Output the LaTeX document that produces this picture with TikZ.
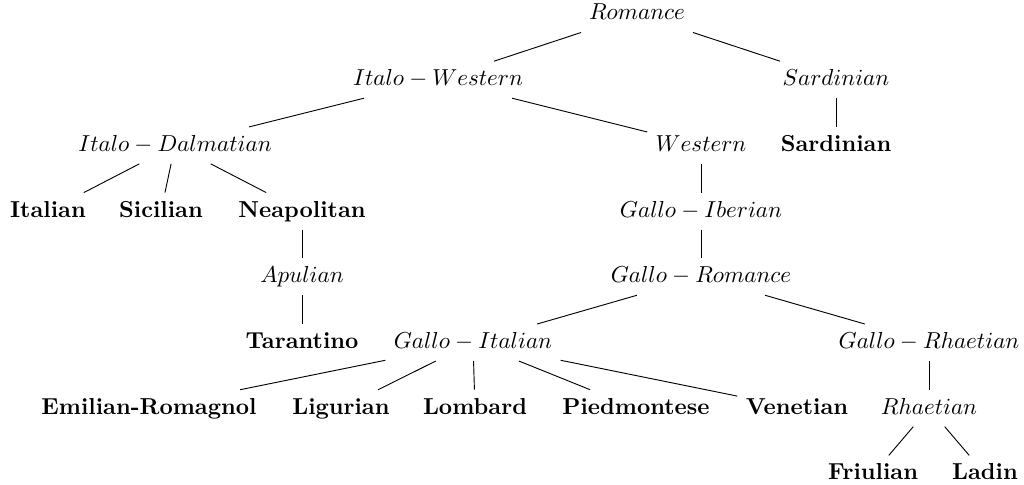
\documentclass[tikz,border=0pt]{standalone}
\usepackage{tikz}

\begin{document}
\begin{tikzpicture}[
        family/.style={
          inner sep=3.5pt,
          text height=1.6ex,
          text depth=0.4ex
        },
        lang/.style={
          family,
          font=\bfseries
        },
        branch/.style={draw=black}
      ]
        \useasboundingbox (0,0) rectangle (15.586,-7.367);

        % level 0 -- 2
        \node[family] (romance)      at (9.696,-0.213)  {$Romance$};
        \node[family] (italowestern) at (6.667,-1.213)  {$Italo-Western$};
        \node[family] (sardfam)      at (12.725,-1.213) {$Sardinian$};
        \node[family] (italodalm)    at (2.664,-2.213)  {$Italo-Dalmatian$};
        \node[family] (western)      at (10.670,-2.213) {$Western$};
        \node[lang]   (sardinian)    at (12.725,-2.213) {Sardinian};

        % level 3 -- 5
        \node[lang]   (italian)      at (0.731,-3.213)  {Italian};
        \node[lang]   (sicilian)     at (2.451,-3.213)  {Sicilian};
        \node[lang]   (neapolitan)   at (4.597,-3.213)  {Neapolitan};
        \node[family] (galloiberian) at (10.670,-3.213) {$Gallo-Iberian$};
        \node[family] (apulian)      at (4.597,-4.213)  {$Apulian$};
        \node[family] (galloromance) at (10.670,-4.213) {$Gallo-Romance$};
        \node[lang]   (tarantino)    at (4.597,-5.213)  {Tarantino};
        \node[family] (galloitalian) at (7.199,-5.213)  {$Gallo-Italian$};
        \node[family] (gallorhaet)   at (14.140,-5.213) {$Gallo-Rhaetian$};

        % level 6 -- 7
        \node[lang]   (emilian)      at (2.268,-6.213)  {Emilian-Romagnol};
        \node[lang]   (ligurian)     at (5.190,-6.213)  {Ligurian};
        \node[lang]   (lombard)      at (7.230,-6.213)  {Lombard};
        \node[lang]   (piedmontese)  at (9.680,-6.213)  {Piedmontese};
        \node[lang]   (venetian)     at (12.131,-6.213) {Venetian};
        \node[family] (rhaetian)     at (14.140,-6.213) {$Rhaetian$};
        \node[lang]   (friulian)     at (13.288,-7.213) {Friulian};
        \node[lang]   (ladin)        at (14.992,-7.213) {Ladin};

        \draw[branch] (romance) -- (italowestern);
        \draw[branch] (romance) -- (sardfam);
        \draw[branch] (italowestern) -- (italodalm);
        \draw[branch] (italowestern) -- (western);
        \draw[branch] (sardfam) -- (sardinian);
        \draw[branch] (italodalm) -- (italian);
        \draw[branch] (italodalm) -- (sicilian);
        \draw[branch] (italodalm) -- (neapolitan);
        \draw[branch] (neapolitan) -- (apulian);
        \draw[branch] (apulian) -- (tarantino);
        \draw[branch] (western) -- (galloiberian);
        \draw[branch] (galloiberian) -- (galloromance);
        \draw[branch] (galloromance) -- (galloitalian);
        \draw[branch] (galloromance) -- (gallorhaet);
        \draw[branch] (galloitalian) -- (emilian);
        \draw[branch] (galloitalian) -- (ligurian);
        \draw[branch] (galloitalian) -- (lombard);
        \draw[branch] (galloitalian) -- (piedmontese);
        \draw[branch] (galloitalian) -- (venetian);
        \draw[branch] (gallorhaet) -- (rhaetian);
        \draw[branch] (rhaetian) -- (friulian);
        \draw[branch] (rhaetian) -- (ladin);
      \end{tikzpicture}
\end{document}
